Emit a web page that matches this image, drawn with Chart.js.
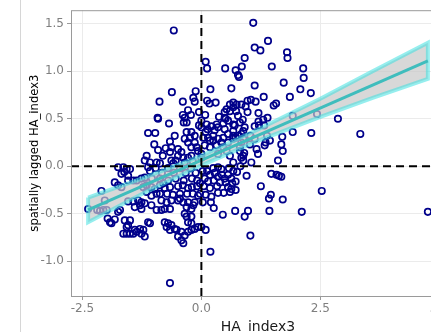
<!DOCTYPE html>
<html>
<head>
<meta charset="utf-8">
<script src="https://cdn.jsdelivr.net/npm/chart.js@4"></script>
<style>
  html, body { margin: 0; padding: 0; background: #fff; overflow: hidden; }
  #wrap { width: 460px; height: 332px; }
</style>
</head>
<body>
<div id="wrap"><canvas id="moranChart" width="460" height="332"></canvas></div>
<script>
// ---------- data ----------
const haIndex = [
  -0.58, 1.09, 1.12, 1.24, 1.40, 0.91, 0.09, 0.12, 0.50, 0.72, 0.85, 0.77, 0.79, 1.48, 1.80, 1.81, 2.14, 2.15, 1.73, 2.08,
  2.30, 1.12, 0.63, 1.86, 1.31, 1.04, 1.14, 1.52, 1.57, 0.74, 0.84, 0.93, 0.97, 1.20, 0.73, 0.77, 1.92, 2.43, -0.62, -0.12,
  0.19, -0.88, -0.39, -0.17, -0.14, 0.12, 0.17, 0.30, 0.53, 0.60, 0.67, 0.97, -0.92, -0.91, -0.39, -0.28, -0.22, -0.05, 0.08, 0.37,
  0.49, 0.60, 0.67, 0.81, 0.87, 0.91, 0.49, 0.00, -0.68, -0.37, -0.31, -0.35, -0.05, 0.00, -1.12, -0.97, -0.99, -0.56, -0.66, -0.63,
  -0.66, -0.31, -0.21, -0.14, -0.24, -0.35, -0.28, -0.14, -0.10, -0.21, -0.49, -0.42, -0.49, -0.38, -0.28, -0.21, -1.15, -1.19, -1.08, -0.94,
  -0.87, -0.63, -0.59, -0.07, 0.00, 0.00, 0.13, 0.21, 0.28, 0.35, 0.32, 0.46, 0.51, 0.14, 0.25, 0.35, 0.46, 0.42, 0.56, 0.67,
  0.11, 0.09, 0.18, 0.49, 0.56, 0.67, 0.77, 0.84, 0.88, 0.04, 0.25, 0.56, 0.67, 0.07, 0.18, 0.32, 0.46, 0.84, 1.02, 1.12,
  1.16, 1.19, 1.33, 1.44, 0.81, 0.88, 0.67, 0.88, 1.05, 1.61, 1.71, 0.53, 0.60, 0.35, 1.21, 1.32, 1.20, 1.30, 1.39, 1.12,
  0.70, 0.67, 1.03, 1.38, 1.35, 1.68, 1.70, 0.72, 0.88, 0.81, 1.92, 2.31, 3.34, 2.87, 0.90, 0.84, -1.12, 0.25, 0.35, 0.42,
  0.58, 0.67, 0.75, 0.82, 0.95, 1.47, 1.58, 1.63, 1.68, 0.63, 0.65, 0.63, 0.60, 1.25, 2.53, 1.46, 1.42, 1.71, 0.71, 0.98,
  0.91, 1.43, 2.11, 4.76, 1.03, 0.49, 0.56, 0.47, 0.21, 0.20, 0.26, 0.45, 0.03, 0.00, 0.09, 0.19, -0.03, 0.12, 0.18, 0.28,
  0.35, 0.43, 0.07, 0.14, 0.26, 0.39, 0.51, 0.33, 0.18, 0.05, 0.35, 0.09, 0.72, 0.56, 0.03, 0.72, -2.38, -2.19, -2.13, -2.06,
  -1.99, -2.10, -2.03, -1.97, -1.92, -1.89, -1.82, -1.75, -1.71, -1.64, -1.57, -1.50, -1.43, -1.36, -1.61, -1.50, -1.54, -1.57, -1.82, -1.75,
  -1.68, -1.75, -1.64, -1.57, -1.50, -1.68, -1.62, -1.54, -1.54, -1.43, -1.36, -1.26, -1.19, -1.54, -1.43, -1.33, -1.26, -1.29, -1.26, -1.29,
  -1.22, -1.26, -1.19, -1.12, -1.08, -1.22, -1.15, -1.05, -0.98, -0.87, -0.80, -1.15, -1.05, -0.94, -0.84, -0.73, -0.63, -0.66, -0.77, -0.94,
  -0.77, -0.70, -0.63, -0.56, -0.73, -0.66, -0.49, -0.42, -0.38, -0.35, -0.66, -0.35, -0.49, -0.45, -0.38, -0.28, -0.14, -0.31, -0.21, -0.17,
  -0.52, -0.42, -0.28, -0.21, -0.14, -0.07, -0.21, -0.28, -0.31, -0.21, -1.40, -1.19, -1.05, -0.84, -1.40, -0.77, -0.66, -0.49, -0.39, -0.28,
  -0.20, -0.09, -0.03, -0.87, -0.72, -0.60, -0.45, -0.30, -0.18, -0.07, -1.08, -0.96, -0.83, -0.70, -0.58, -0.45, -0.33, -0.22, -0.12, -0.87,
  -0.70, -0.54, -0.37, -0.20, -0.09, -1.04, -0.81, -0.54, -0.35, -0.18, -0.75, -0.91
];
const laggedIndex = [
  1.43, 1.51, 1.25, 1.22, 1.32, 1.14, 1.10, 1.03, 1.03, 1.01, 1.05, 0.96, 0.94, 1.05, 1.20, 1.14, 1.03, 0.93, 0.88, 0.81,
  0.77, 0.85, 0.82, 0.73, 0.73, 0.70, 0.68, 0.64, 0.66, 0.65, 0.65, 0.63, 0.57, 0.56, 0.58, 0.53, 0.53, 0.55, 0.78, 0.79,
  0.81, 0.68, 0.68, 0.72, 0.68, 0.69, 0.66, 0.67, 0.60, 0.65, 0.67, 0.69, 0.51, 0.50, 0.54, 0.59, 0.54, 0.57, 0.54, 0.52,
  0.57, 0.58, 0.62, 0.46, 0.49, 0.41, 0.51, 0.48, 0.45, 0.46, 0.46, 0.51, 0.43, 0.41, 0.35, 0.35, 0.23, 0.32, 0.26, 0.20,
  0.15, 0.36, 0.36, 0.32, 0.30, 0.29, 0.25, 0.25, 0.20, 0.20, 0.18, 0.15, 0.11, 0.09, 0.09, 0.11, 0.11, 0.06, 0.04, 0.04,
  0.03, 0.06, 0.03, 0.16, 0.13, 0.09, 0.39, 0.42, 0.38, 0.41, 0.44, 0.45, 0.50, 0.30, 0.32, 0.29, 0.30, 0.25, 0.48, 0.44,
  0.44, 0.36, 0.27, 0.39, 0.34, 0.32, 0.32, 0.34, 0.37, 0.30, 0.27, 0.25, 0.29, 0.22, 0.20, 0.22, 0.20, 0.25, 0.23, 0.29,
  0.18, 0.13, 0.22, 0.27, 0.16, 0.11, 0.04, 0.06, 0.04, 0.06, 0.16, 0.16, 0.11, 0.13, 0.43, 0.43, 0.47, 0.49, 0.51, 0.42,
  0.43, 0.37, 0.32, 0.32, 0.25, 0.23, 0.31, 0.30, 0.29, 0.20, 0.36, 0.35, 0.34, 0.50, 0.14, 0.09, -0.01, -0.02, -0.01, -0.03,
  -0.02, -0.05, -0.06, 0.00, -0.10, -0.08, -0.09, -0.10, -0.11, -0.13, -0.18, -0.24, -0.27, -0.21, -0.26, -0.30, -0.34, -0.35, -0.47, -0.47,
  -0.53, -0.47, -0.48, -0.48, -0.73, -0.13, -0.22, -0.28, -0.32, -0.38, -0.44, -0.51, -0.38, -0.64, -0.67, -0.90, -0.29, -0.05, -0.09, -0.07,
  -0.11, -0.09, -0.13, -0.16, -0.15, -0.17, -0.17, -0.21, -0.23, -0.21, -0.28, -0.30, -0.16, -0.09, -0.05, -0.25, -0.45, -0.46, -0.47, -0.46,
  -0.46, -0.26, -0.36, -0.55, -0.59, -0.60, -0.56, -0.48, -0.46, -0.71, -0.71, -0.71, -0.71, -0.69, -0.57, -0.57, -0.62, -0.64, -0.17, -0.20,
  -0.22, -0.01, -0.01, -0.03, -0.03, -0.08, -0.06, -0.10, -0.15, -0.15, -0.15, -0.13, -0.12, -0.37, -0.37, -0.36, -0.38, -0.41, -0.45, -0.66,
  -0.67, -0.71, -0.74, -0.59, -0.60, -0.22, -0.20, -0.22, -0.24, -0.20, -0.18, -0.27, -0.31, -0.29, -0.36, -0.38, -0.36, -0.45, -0.45, -0.46,
  -0.59, -0.60, -0.62, -0.66, -0.64, -0.67, -0.74, -0.78, -0.81, -0.73, -1.23, -0.50, -0.36, -0.34, -0.38, -0.38, -0.38, -0.43, -0.45, -0.41,
  -0.67, -0.69, -0.59, -0.60, -0.66, -0.64, -0.67, -0.69, -0.53, -0.53, -0.43, -0.39, -0.41, -0.46, -0.67, -0.23, -0.22, -0.21, -0.20, -0.23,
  -0.22, -0.21, -0.18, -0.29, -0.29, -0.30, -0.29, -0.29, -0.29, -0.31, -0.05, -0.02, -0.07, -0.02, -0.07, -0.02, -0.07, -0.02, -0.07, -0.13,
  -0.15, -0.13, -0.15, -0.13, -0.15, -0.13, 0.11, 0.06, 0.04, 0.05, 0.19, 0.17
];

// fitted line ends and its confidence band
const fitX = [-2.38, 4.76];
const fitY = [-0.46, 1.11];
const bandX = [-2.38, -1.2, 0, 1.2, 2.5, 3.6, 4.76];
const bandHi = [-0.33, -0.12, 0.11, 0.39, 0.71, 1.00, 1.30];
const bandLo = [-0.59, -0.28, 0.01, 0.27, 0.52, 0.72, 0.92];

const xTicks = [-2.5, 0, 2.5, 5];
const yTicks = [-1.0, -0.5, 0, 0.5, 1.0, 1.5];
const xTitle = "HA_index3";
const yTitle = "spatially lagged HA_index3";

const toPts = (xs, ys) => xs.map((x, i) => ({ x: x, y: ys[i] }));

// outline of the band: along the top, back along the bottom, closed
const bandOutline = toPts(bandX, bandHi)
  .concat(toPts(bandX, bandLo).reverse())
  .concat([{ x: bandX[0], y: bandHi[0] }]);

// dashed zero lines, frame and the thin separator on the far left
const refLines = {
  id: "refLines",
  afterDatasetsDraw(chart) {
    const { ctx, chartArea: a, scales } = chart;
    const x0 = scales.x.getPixelForValue(0);
    const y0 = scales.y.getPixelForValue(0);
    ctx.save();
    ctx.strokeStyle = "#000";
    ctx.lineWidth = 2;
    ctx.setLineDash([8, 5]);
    ctx.beginPath();
    ctx.moveTo(a.left, y0);
    ctx.lineTo(a.right, y0);
    ctx.moveTo(x0, a.bottom);
    ctx.lineTo(x0, a.top);
    ctx.stroke();
    ctx.setLineDash([]);
    ctx.lineWidth = 1;
    ctx.strokeStyle = "#9a9a9a";
    ctx.strokeRect(a.left + 0.5, a.top + 0.5, a.right - a.left, a.bottom - a.top);
    ctx.strokeStyle = "#d6d6d6";
    ctx.beginPath();
    ctx.moveTo(20.5, 0);
    ctx.lineTo(20.5, chart.height);
    ctx.stroke();
    ctx.restore();
  }
};

Chart.defaults.font.family = "'DejaVu Sans', Verdana, sans-serif";

const ctx = document.getElementById("moranChart");
new Chart(ctx, {
  type: "scatter",
  data: {
    datasets: [
      {
        type: "line",
        label: "fit",
        data: toPts(fitX, fitY),
        borderColor: "#3fbdbd",
        borderWidth: 3,
        pointRadius: 0,
        fill: false,
        order: 0,
      },
      {
        type: "line",
        label: "band outline",
        data: bandOutline,
        borderColor: "rgba(64, 224, 224, 0.55)",
        borderWidth: 4,
        pointRadius: 0,
        fill: false,
        order: 1,
      },
      {
        type: "line",
        label: "band hi",
        data: toPts(bandX, bandHi),
        borderWidth: 0,
        pointRadius: 0,
        backgroundColor: "rgba(200, 200, 200, 0.7)",
        fill: "+1",
        order: 2,
      },
      {
        type: "line",
        label: "band lo",
        data: toPts(bandX, bandLo),
        borderWidth: 0,
        pointRadius: 0,
        fill: false,
        order: 3,
      },
      {
        label: "HA_index3",
        data: toPts(haIndex, laggedIndex),
        pointRadius: 3.2,
        pointBorderWidth: 1.7,
        pointBorderColor: "#00008b",
        pointBackgroundColor: "rgba(0,0,0,0)",
        order: 4,
      },
    ],
  },
  options: {
    responsive: false,
    animation: false,
    devicePixelRatio: 1,
    layout: { padding: { top: 9, right: 15, bottom: 0, left: 0 } },
    plugins: {
      legend: { display: false },
      tooltip: { enabled: false },
    },
    scales: {
      x: {
        type: "linear",
        min: -2.74,
        max: 5.12,
        afterFit: (s) => { s.height = 36; },
        afterBuildTicks: (s) => { s.ticks = xTicks.map((v) => ({ value: v })); },
        ticks: {
          color: "#7f7f7f",
          font: { size: 12 },
          padding: 2,
          callback: (v) => Number(v).toFixed(1),
        },
        grid: { color: "#ebebeb", tickColor: "#9a9a9a", tickLength: 4 },
        border: { display: false },
        title: {
          display: true,
          text: xTitle,
          color: "#1a1a1a",
          font: { size: 14 },
          padding: { top: 0, bottom: -3.5 },
        },
      },
      y: {
        type: "linear",
        min: -1.366,
        max: 1.643,
        afterFit: (s) => { s.width = 71; },
        afterBuildTicks: (s) => { s.ticks = yTicks.map((v) => ({ value: v })); },
        ticks: {
          color: "#7f7f7f",
          font: { size: 12 },
          padding: 3,
          callback: (v) => Number(v).toFixed(1),
        },
        grid: { color: "#ebebeb", tickColor: "#9a9a9a", tickLength: 4 },
        border: { display: false },
        title: {
          display: true,
          text: yTitle,
          color: "#000",
          font: { size: 11.6 },
          padding: { top: 28, bottom: 0 },
        },
      },
    },
  },
  plugins: [refLines],
});
</script>
</body>
</html>
